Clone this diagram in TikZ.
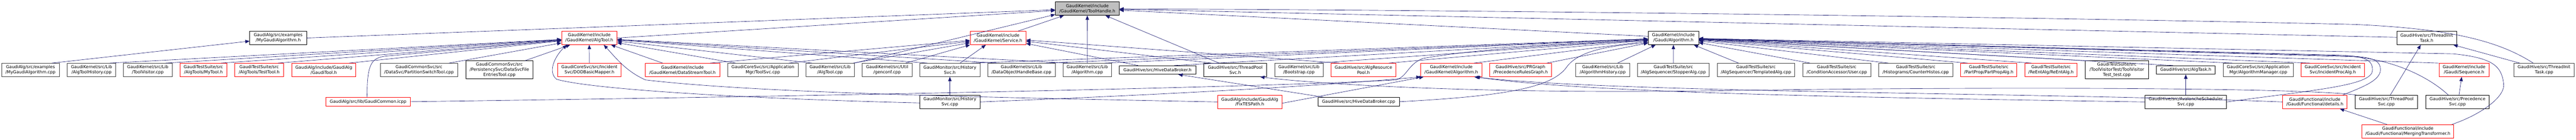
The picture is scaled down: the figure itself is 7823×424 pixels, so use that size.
\documentclass[tikz,border=0pt]{standalone}
\usepackage{fontspec}
\setmainfont{DejaVu Sans}
\usetikzlibrary{arrows.meta,positioning}
\definecolor{edgeblue}{HTML}{191970}
\definecolor{rootgray}{HTML}{BFBFBF}

\begin{document}
\begin{tikzpicture}[x=1pt, y=-1pt,
    filebox/.style={draw=black!75, line width=1.2pt, fill=white, inner sep=0pt, minimum height=40.6pt, align=center, font=\fontsize{12.9}{15.3}\selectfont},
    darkbox/.style={filebox, draw=black},
    truncbox/.style={filebox, draw=red},
    rootbox/.style={filebox, draw=black, fill=rootgray},
    oneline/.style={minimum height=26pt},
    threeline/.style={minimum height=54.7pt},
    arrow/.style={->, >={Triangle[length=13pt,width=10.5pt]}, draw=edgeblue, line width=1pt}
]
\useasboundingbox (0,0) rectangle (7823,424);

% Header being documented
\node[rootbox, minimum width=194pt] (th) at (3302,26) {GaudiKernel/include\\/GaudiKernel/ToolHandle.h};

% Direct includers
\node[darkbox, minimum width=172.2pt] (mgah) at (844.7,115) {GaudiAlg/src/examples\\/MyGaudiAlgorithm.h};
\node[truncbox, minimum width=168.4pt] (ath) at (1789.6,115) {GaudiKernel/include\\/GaudiKernel/AlgTool.h};
\node[truncbox, minimum width=169.7pt] (svh) at (3030.9,115) {GaudiKernel/include\\/GaudiKernel/Service.h};
\node[darkbox, minimum width=152.8pt] (gah) at (5081.9,115) {GaudiKernel/include\\/Gaudi/Algorithm.h};
\node[darkbox, minimum width=182.4pt] (tith) at (7369.5,115) {GaudiHive/src/ThreadInit\\Task.h};

% Second level
\node[filebox, minimum width=175.2pt] (mgacpp) at (92.6,212) {GaudiAlg/src/examples\\/MyGaudiAlgorithm.cpp};
\node[filebox, minimum width=147pt] (athist) at (278,212) {GaudiKernel/src/Lib\\/AlgToolHistory.cpp};
\node[filebox, minimum width=147.4pt] (toolvis) at (448.8,212) {GaudiKernel/src/Lib\\/ToolVisitor.cpp};
\node[truncbox, minimum width=142.7pt] (mytool) at (617.8,212) {GaudiTestSuite/src\\/AlgTools/MyTool.h};
\node[truncbox, minimum width=148.6pt] (testtool) at (787,212) {GaudiTestSuite/src\\/AlgTools/TestTool.h};
\node[truncbox, minimum width=194.9pt] (gtool) at (983.2,212) {GaudiAlg/include/GaudiAlg\\/GaudiTool.h};
\node[filebox, minimum width=234.5pt] (pstool) at (1272.5,212) {GaudiCommonSvc/src\\/DataSvc/PartitionSwitchTool.cpp};
\node[darkbox, threeline, minimum width=204.2pt] (dsfet) at (1516.6,211.6) {GaudiCommonSvc/src\\/PersistencySvc/DataSvcFile\\EntriesTool.cpp};
\node[truncbox, minimum width=192.9pt] (dodbm) at (1790,212) {GaudiCoreSvc/src/Incident\\Svc/DODBasicMapper.h};
\node[truncbox, minimum width=226.5pt] (dstool) at (2072.5,212) {GaudiKernel/include\\/GaudiKernel/DataStreamTool.h};
\node[filebox, minimum width=213.9pt] (toolsvc) at (2316.8,212) {GaudiCoreSvc/src/Application\\Mgr/ToolSvc.cpp};
\node[filebox, minimum width=146.9pt] (atcpp) at (2520.8,212) {GaudiKernel/src/Lib\\/AlgTool.cpp};
\node[filebox, minimum width=150.8pt] (genconf) at (2693.9,212) {GaudiKernel/src/Util\\/genconf.cpp};
\node[filebox, minimum width=182.8pt] (histh) at (2884.6,212) {GaudiMonitor/src/History\\Svc.h};
\node[filebox, minimum width=204.7pt] (dohb) at (3101.9,212) {GaudiKernel/src/Lib\\/DataObjectHandleBase.cpp};
\node[filebox, minimum width=146.4pt] (algcpp) at (3301.8,212) {GaudiKernel/src/Lib\\/Algorithm.cpp};
\node[darkbox, oneline, minimum width=232.5pt] (hdbh) at (3515.3,212) {GaudiHive/src/HiveDataBroker.h};
\node[darkbox, minimum width=191.6pt] (tpsh) at (3751.2,212) {GaudiHive/src/ThreadPool\\Svc.h};
\node[filebox, minimum width=146.5pt] (boot) at (3944.7,212) {GaudiKernel/src/Lib\\/Bootstrap.cpp};
\node[truncbox, minimum width=197.4pt] (arph) at (4140.6,212) {GaudiHive/src/AlgResource\\Pool.h};
\node[truncbox, minimum width=185.2pt] (gkalgh) at (4407.3,212) {GaudiKernel/include\\/GaudiKernel/Algorithm.h};
\node[truncbox, minimum width=187.4pt] (prgraph) at (4617.5,212) {GaudiHive/src/PRGraph\\/PrecedenceRulesGraph.h};
\node[filebox, minimum width=162.9pt] (algohist) at (4867.3,212) {GaudiKernel/src/Lib\\/AlgorithmHistory.cpp};
\node[filebox, minimum width=217.2pt] (stopper) at (5081.7,212) {GaudiTestSuite/src\\/AlgSequencer/StopperAlg.cpp};
\node[filebox, minimum width=234.9pt] (templ) at (5332.7,212) {GaudiTestSuite/src\\/AlgSequencer/TemplatedAlg.cpp};
\node[filebox, minimum width=206.7pt] (user) at (5577.9,212) {GaudiTestSuite/src\\/ConditionAccessor/User.cpp};
\node[filebox, minimum width=224.4pt] (counter) at (5817.8,212) {GaudiTestSuite/src\\/Histograms/CounterHistos.cpp};
\node[truncbox, minimum width=170.9pt] (partprop) at (6039.5,212) {GaudiTestSuite/src\\/PartProp/PartPropAlg.h};
\node[truncbox, minimum width=159.1pt] (reent) at (6228.5,212) {GaudiTestSuite/src\\/ReEntAlg/ReEntAlg.h};
\node[darkbox, threeline, minimum width=191.9pt] (tvtest) at (6428.5,211.6) {GaudiTestSuite/src\\/ToolVisitorTest/ToolVisitor\\Test\_test.cpp};
\node[darkbox, oneline, minimum width=178.9pt] (algtask) at (6637.9,212) {GaudiHive/src/AlgTask.h};
\node[filebox, minimum width=213.4pt] (algmgr) at (6858,212) {GaudiCoreSvc/src/Application\\Mgr/AlgorithmManager.cpp};
\node[truncbox, minimum width=191.6pt] (incproc) at (7084.2,212) {GaudiCoreSvc/src/Incident\\Svc/IncidentProcAlg.h};
\node[truncbox, minimum width=152.3pt] (seqh) at (7482.9,212) {GaudiKernel/include\\/Gaudi/Sequence.h};
\node[filebox, minimum width=182.8pt] (titcpp) at (7726,212) {GaudiHive/src/ThreadInit\\Task.cpp};

% Third level
\node[truncbox, oneline, minimum width=256.4pt] (gcicpp) at (1117.9,308) {GaudiAlg/src/lib/GaudiCommon.icpp};
\node[darkbox, minimum width=182.8pt] (histcpp) at (2884.6,308.7) {GaudiMonitor/src/History\\Svc.cpp};
\node[truncbox, minimum width=195.3pt] (fixtes) at (3795.2,308.7) {GaudiAlg/include/GaudiAlg\\/FixTESPath.h};
\node[darkbox, oneline, minimum width=246.7pt] (hdbcpp) at (4126,308) {GaudiHive/src/HiveDataBroker.cpp};
\node[darkbox, minimum width=248pt] (avalanche) at (6637.9,308.7) {GaudiHive/src/AvalancheScheduler\\Svc.cpp};
\node[truncbox, minimum width=194.9pt] (details) at (7029.8,308.7) {GaudiFunctional/include\\/Gaudi/Functional/details.h};
\node[darkbox, minimum width=190.6pt] (tpscpp) at (7247,308.7) {GaudiHive/src/ThreadPool\\Svc.cpp};
\node[darkbox, minimum width=191.8pt] (precsvc) at (7463.1,308.7) {GaudiHive/src/Precedence\\Svc.cpp};

% Fourth level
\node[truncbox, minimum width=279pt] (merging) at (7312.2,397.7) {GaudiFunctional/include\\/Gaudi/Functional/MergingTransformer.h};

% Into ToolHandle.h
\draw[arrow] (mgah.east) -- (th);
\draw[arrow] (ath.east) -- (th);
\draw[arrow] (atcpp.north east) -- ([yshift=3pt]th.south west);
\draw[arrow] ([xshift=61pt]svh.north) -- ([xshift=-71pt]th.south);
\draw[arrow] (algcpp.north) -- (th.south);
\draw[arrow] ([xshift=-49pt]tpsh.north) -- ([xshift=55pt]th.south);
\draw[arrow] ([yshift=5pt]gah.west) -- (th);
\draw[arrow] ([yshift=2pt]tith.west) -- (th);
\draw[arrow] ([xshift=-33pt]titcpp.north) .. controls (7580,118) and (7420,86) .. (7150,74) .. controls (6200,52) and (4500,30) .. ([yshift=-1pt]th.east);

% Into MyGaudiAlgorithm.h
\draw[arrow] ([xshift=65pt]mgacpp.north) -- (mgah);

% Into AlgTool.h
\draw[arrow] ([xshift=55pt]athist.north) -- (ath);
\draw[arrow] ([xshift=54pt]toolvis.north) -- (ath);
\draw[arrow] ([xshift=53pt]mytool.north) -- (ath);
\draw[arrow] ([xshift=57pt]testtool.north) -- (ath);
\draw[arrow] ([xshift=77pt]gtool.north) -- (ath);
\draw[arrow] ([xshift=-3pt]gcicpp.north) .. controls (1114,190) and (1130,176) .. (1170,170) -- (ath);
\draw[arrow] ([xshift=91pt]pstool.north) -- (ath);
\draw[arrow] ([xshift=78pt]dsfet.north) -- ([xshift=-58pt]ath.south);
\draw[arrow] (dodbm.north) -- (ath.south);
\draw[arrow] ([xshift=-60pt]dstool.north) -- ([xshift=66pt]ath.south);
\draw[arrow] ([xshift=-83pt]toolsvc.north) -- (ath);
\draw[arrow] ([xshift=-55pt]atcpp.north) -- (ath);
\draw[arrow] ([xshift=-68pt]histh.north) -- (ath);
\draw[arrow] ([xshift=-75pt]dohb.north) -- (ath);
\draw[arrow] ([xshift=-58pt]algcpp.north) -- (ath);
\draw[arrow] ([yshift=-3pt]histcpp.west) .. controls (2300,300) and (1800,272) .. (1690,240) .. controls (1660,215) and (1690,165) .. ([xshift=-68pt]ath.south);
\draw[arrow] (fixtes.west) .. controls (3000,295) and (2300,282) .. (1960,242) .. controls (1900,215) and (1870,175) .. ([xshift=44pt]ath.south);

% Into Service.h
\draw[arrow] ([xshift=56pt]genconf.north) -- ([xshift=-85pt]svh.south);
\draw[arrow] ([xshift=31pt]histh.north) -- ([xshift=-37pt]svh.south);
\draw[arrow] ([xshift=84pt]dstool.north) -- (svh);
\draw[arrow] ([xshift=79pt]toolsvc.north) -- (svh);
\draw[arrow] ([xshift=70pt]atcpp.north) -- (svh);
\draw[arrow] ([xshift=-59pt]hdbh.north) -- (svh);
\draw[arrow] ([xshift=-72pt]tpsh.north) -- (svh);
\draw[arrow] ([xshift=-73pt]arph.north) -- (svh);

% Into Gaudi/Algorithm.h
\draw[arrow] ([xshift=65pt]histh.north) -- (gah);
\draw[arrow] ([xshift=73pt]dohb.north) -- (gah);
\draw[arrow] ([xshift=53pt]algcpp.north) -- (gah);
\draw[arrow] ([xshift=51pt]hdbh.north) -- (gah);
\draw[arrow] ([xshift=54pt]boot.north) -- (gah);
\draw[arrow] ([xshift=77pt]arph.north) -- (gah);
\draw[arrow] ([xshift=69pt]gkalgh.north) -- (gah);
\draw[arrow] ([xshift=80pt]prgraph.north) -- (gah);
\draw[arrow] (gcicpp.east) .. controls (2600,290) and (3900,262) .. (4240,242) .. controls (4275,230) and (4275,195) .. (4321,177) .. controls (4500,145) and (4800,132) .. ([yshift=-8pt]gah.west);
\draw[arrow] (hdbcpp.east) .. controls (4600,290) and (4720,260) .. (4760,200) .. controls (4800,150) and (4900,138) .. ([yshift=-14pt]gah.west);
\draw[arrow] ([xshift=45pt]algohist.north) -- ([xshift=-54pt]gah.south);
\draw[arrow] (stopper.north) -- (gah.south);
\draw[arrow] ([xshift=-53pt]templ.north) -- ([xshift=62pt]gah.south);
\draw[arrow] ([xshift=-81pt]user.north) -- (gah);
\draw[arrow] ([xshift=-83pt]counter.north) -- (gah);
\draw[arrow] ([xshift=-64pt]partprop.north) -- (gah);
\draw[arrow] ([xshift=-59pt]reent.north) -- (gah);
\draw[arrow] (tvtest.north west) -- (gah);
\draw[arrow] ([xshift=-39pt]algtask.north) -- (gah);
\draw[arrow] ([xshift=-78pt]algmgr.north) -- (gah);
\draw[arrow] ([xshift=-69pt]incproc.north) -- (gah);
\draw[arrow] (seqh.north west) -- (gah);
\draw[arrow] ([xshift=-28pt]precsvc.north) .. controls (7390,245) and (7290,185) .. (7150,172) -- (gah);
\draw[arrow] (avalanche.east) .. controls (7050,270) and (7205,258) .. (7205,212) .. controls (7205,180) and (7180,170) .. (7100,167) -- (gah);
\draw[arrow] ([xshift=85pt]details.north) .. controls (7170,265) and (7230,245) .. (7229,210) .. controls (7228,180) and (7200,172) .. (7120,169) -- (gah);
\draw[arrow] ([xshift=134pt]merging.north) .. controls (7540,345) and (7610,290) .. (7603,253) .. controls (7597,200) and (7570,175) .. (7450,163) -- (gah);

% Lower levels
\draw[arrow] (histcpp.north) -- (histh.south);
\draw[arrow] ([xshift=-106pt]hdbcpp.north) -- ([xshift=63pt]hdbh.south);
\draw[arrow] ([xshift=5pt]tpscpp.north west) .. controls (7000,265) and (6000,262) .. (5200,275) .. controls (4500,285) and (4000,255) .. ([xshift=76pt]tpsh.south);
\draw[arrow] ([yshift=-4pt]fixtes.east) -- ([xshift=9pt]gkalgh.south west);
\draw[arrow] (histcpp.east) .. controls (3300,296) and (3900,270) .. (gkalgh.south west);
\draw[arrow] (avalanche.west) .. controls (5600,295) and (4800,280) .. ([xshift=74pt]gkalgh.south);
\draw[arrow] (details.west) .. controls (6200,280) and (4900,282) .. ([xshift=70pt]gkalgh.south);
\draw[arrow] (avalanche.north) -- (algtask.south);
\draw[arrow] ([xshift=12pt]tpscpp.north) -- ([xshift=-18pt]tith.south);
\draw[arrow] ([xshift=-74pt]titcpp.north) -- ([xshift=81pt]tith.south);
\draw[arrow] ([xshift=4.5pt]precsvc.north) -- ([xshift=-7pt]seqh.south);
\draw[arrow] ([xshift=-63.5pt]merging.north) -- ([xshift=76pt]details.south);

\end{tikzpicture}
\end{document}
